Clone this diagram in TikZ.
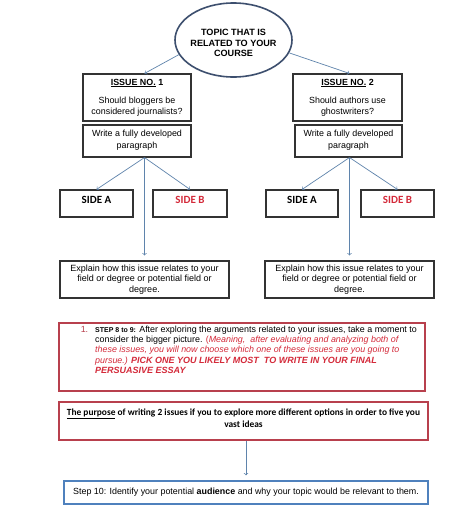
\documentclass[tikz,border=0pt]{standalone}
\usepackage{fontspec}
\setmainfont{Liberation Sans}
\newfontfamily\calibri{Carlito}
\usepackage{xcolor}
\usetikzlibrary{shapes.geometric}
\definecolor{navy}{HTML}{3D4F6E}
\definecolor{arrowblue}{HTML}{5F84AC}
\definecolor{boxred}{HTML}{B8404D}
\definecolor{boxblue}{HTML}{4F81BD}
\definecolor{textred}{HTML}{D42A3A}
\definecolor{edgegrey}{HTML}{333333}

\begin{document}
\begin{tikzpicture}[x = 1pt, y = -1pt,
  box/.style = {draw = edgegrey, line width = 1.1pt, inner sep = 0pt, align = center, font = \fontsize{8.9}{11}\selectfont},
  sidebox/.style = {box, font = \calibri\bfseries\fontsize{11}{12}\selectfont, text height = 10pt, text depth = 11pt, inner ysep = 3pt},
  link/.style = {arrowblue, line width = .7pt, ->}]
  \useasboundingbox (0, 0) rectangle (474, 523);
  \fill[white] (0, 0) rectangle (474, 523);
  % topic
  \node[draw = navy, line width = 1.6pt, ellipse, minimum width = 117pt, minimum height = 74pt] (topic) at (233.5, 40) {};
  \node[align = center, font = \bfseries\fontsize{9.1}{10.6}\selectfont] (topictxt) at (233.5, 43) {TOPIC THAT IS\\RELATED TO YOUR\\COURSE};
  % issues
  \node[box, minimum width = 108pt, minimum height = 47pt] (issue1) at (137, 97.5) {\textbf{\underline{ISSUE NO.} 1}\\[7pt]Should bloggers be\\considered journalists?};
  \node[box, minimum width = 109pt, minimum height = 47pt] (issue2) at (347.5, 97.5) {\textbf{\underline{ISSUE NO.} 2}\\[7pt]Should authors use\\ghostwriters?};
  \node[box, minimum width = 108pt, minimum height = 32pt, font = \fontsize{8.9}{12}\selectfont] (write1) at (137, 141) {Write a fully developed\\paragraph\\[-8pt]};
  \node[box, minimum width = 107pt, minimum height = 32pt, font = \fontsize{8.9}{12}\selectfont] (write2) at (348.5, 141) {Write a fully developed\\paragraph\\[-8pt]};
  % sides
  \node[sidebox, minimum width = 73pt] (sideA1) at (96.5, 203.5) {SIDE A};
  \node[sidebox, minimum width = 74pt, text = textred] (sideB1) at (190, 203.5) {SIDE B};
  \node[sidebox, minimum width = 72pt] (sideA2) at (302, 203.5) {SIDE A};
  \node[sidebox, minimum width = 73pt, text = textred] (sideB2) at (397.5, 203.5) {SIDE B};
  \node[box, minimum width = 169pt, minimum height = 37pt, font = \fontsize{9}{10.3}\selectfont] (expl1) at (144.5, 279.5) {Explain how this issue relates to your\\field or degree or potential field or\\degree.};
  \node[box, minimum width = 169pt, minimum height = 37pt, font = \fontsize{9}{10.3}\selectfont] (expl2) at (349.5, 279.5) {Explain how this issue relates to your\\field or degree or potential field or\\degree.};
  \coordinate (hub1) at (write1.south -| expl1.north);
  \coordinate (hub2) at (write2.south -| expl2.north);
  % steps
  \node[draw = boxred, line width = 1.3pt, minimum width = 366pt, minimum height = 68pt] (step8) at (242, 357) {};
  \node[anchor = north west, inner sep = 0pt, align = left, font = \fontsize{8.9}{10.3}\selectfont] (step8txt) at (95, 325.5)
    {\llap{\textcolor{boxred}{1.}\hspace{7pt}}{\bfseries\fontsize{7}{10.3}\selectfont STEP 8 to 9:} After exploring the arguments related to your issues, take a moment to\\
     consider the bigger picture. {\color{textred}(\itshape Meaning,\ \ after evaluating and analyzing both of}\\
     {\color{textred}\itshape these issues, you will now choose which one of these issues are you going to}\\
     {\color{textred}\itshape pursue.) {\bfseries\fontsize{9}{10.3}\selectfont PICK ONE YOU LIKELY MOST\ \ TO WRITE IN YOUR FINAL}}\\
     {\color{textred}\bfseries\itshape\fontsize{9}{10.3}\selectfont PERSUASIVE ESSAY}};
  \node[draw = boxred, line width = 1.3pt, minimum width = 369pt, minimum height = 38pt, align = center, font = \calibri\bfseries\fontsize{9.4}{12}\selectfont] (purpose) at (243.5, 421)
    {\underline{The purpose} of writing 2 issues if you to explore more different options in order to five you\\vast ideas\\[-6pt]};
  \node[draw = boxblue, line width = 1.3pt, minimum width = 364pt, minimum height = 23pt, font = \fontsize{8.9}{10}\selectfont] (step10) at (246, 492.5)
    {Step 10: Identify your potential \textbf{audience} and why your topic would be relevant to them.};
  % connectors
  \draw[link] (topic.195) -- (issue1.north -| hub1);
  \draw[link] (topic.347) -- (issue2.north -| hub2);
  \draw[link] (hub1) -- (sideA1.north);
  \draw[link] (hub1) -- (sideB1.north);
  \draw[link, shorten > = 5pt] (hub1) -- (expl1.north);
  \draw[link] (hub2) -- (sideA2.north);
  \draw[link] (hub2) -- (sideB2.north);
  \draw[link, shorten > = 5pt] (hub2) -- (expl2.north);
  \draw[link, shorten > = 5pt] (purpose.south -| step10.north) -- (step10.north);
\end{tikzpicture}
\end{document}
